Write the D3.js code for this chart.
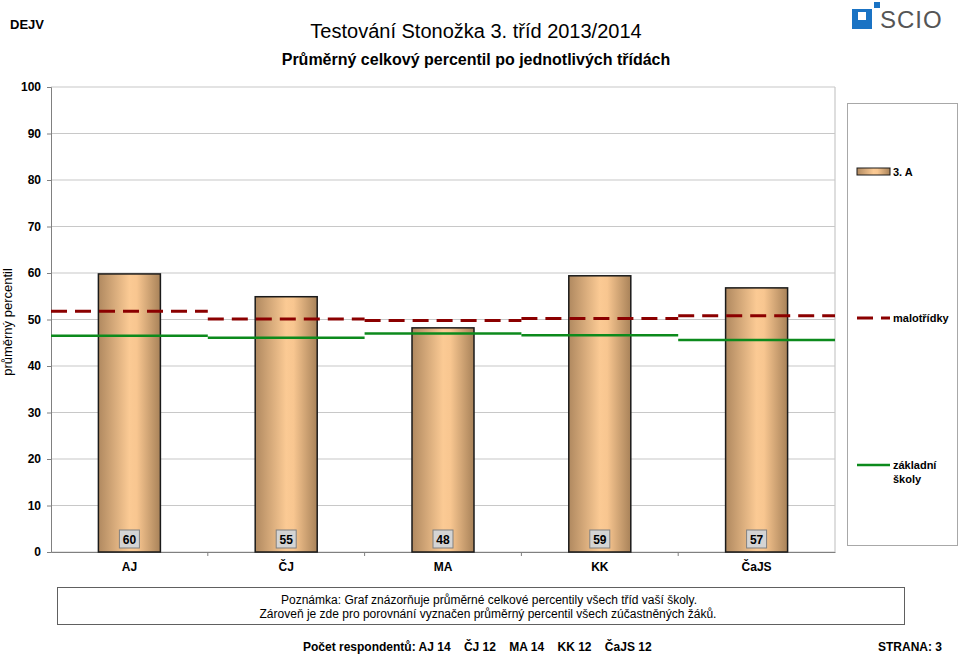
<!DOCTYPE html>
<html>
<head>
<meta charset="utf-8">
<script src="https://cdn.jsdelivr.net/npm/d3@7"></script>
<style>
  body { margin: 0; background: #fff; }
  svg { font-family: Arial, "Liberation Sans", sans-serif; }
</style>
</head>
<body>
<div id="chart"></div>
<script>
var categories = ["AJ", "ČJ", "MA", "KK", "ČaJS"];
var classValues = [59.8, 54.9, 48.2, 59.4, 56.8];
var maloValues = [51.8, 50.1, 49.8, 50.2, 50.8];
var zsValues = [46.5, 46.1, 47.0, 46.6, 45.6];
var respondents = [14, 12, 14, 12, 12];
var yTicks = [0, 10, 20, 30, 40, 50, 60, 70, 80, 90, 100];

var svgW = 960, svgH = 655;
var margin = { left: 51, right: 125, top: 87, bottom: 103 };
var chartW = svgW - margin.left - margin.right;
var chartH = svgH - margin.top - margin.bottom;

var svg = d3.select("#chart").append("svg")
    .attr("width", svgW)
    .attr("height", svgH);

var defs = svg.append("defs");
var grad = defs.append("linearGradient").attr("id", "barGrad")
    .attr("x1", "0%").attr("x2", "100%").attr("y1", "0%").attr("y2", "0%");
grad.append("stop").attr("offset", "0%").attr("stop-color", "#b08960");
grad.append("stop").attr("offset", "50%").attr("stop-color", "#fbca94");
grad.append("stop").attr("offset", "62%").attr("stop-color", "#f8c690");
grad.append("stop").attr("offset", "100%").attr("stop-color", "#a88259");

// header
svg.append("text").attr("x", 10).attr("y", 29)
    .attr("font-size", 13).attr("font-weight", "bold").text("DEJV");
svg.append("text").attr("x", 476).attr("y", 38).attr("text-anchor", "middle")
    .attr("font-size", 20).text("Testování Stonožka 3. tříd 2013/2014");
svg.append("text").attr("x", 476).attr("y", 65).attr("text-anchor", "middle")
    .attr("font-size", 16).attr("font-weight", "bold")
    .text("Průměrný celkový percentil po jednotlivých třídách");

// logo
var logo = svg.append("g");
logo.append("rect").attr("x", 852).attr("y", 9).attr("width", 20).attr("height", 20).attr("fill", "#1a73c4");
logo.append("rect").attr("x", 858).attr("y", 12).attr("width", 8).attr("height", 8).attr("fill", "#ffffff");
logo.append("rect").attr("x", 874).attr("y", 2).attr("width", 6).attr("height", 6).attr("fill", "#1a73c4");
logo.append("text").attr("x", 880).attr("y", 28).attr("font-size", 24)
    .attr("fill", "#555").attr("letter-spacing", 1).text("SCIO");

var g = svg.append("g").attr("transform", `translate(${margin.left}, ${margin.top})`);

var xScale = d3.scaleBand().domain(categories).range([0, chartW]).paddingInner(0).paddingOuter(0);
var yScale = d3.scaleLinear().domain([0, 100]).range([chartH, 0]);

// grid
g.selectAll(".grid").data(yTicks).enter().append("line")
    .attr("x1", 0).attr("x2", chartW)
    .attr("y1", d => yScale(d)).attr("y2", d => yScale(d))
    .attr("stroke", "#c8c8c8").attr("stroke-width", 1.2);
g.append("line").attr("x1", chartW).attr("x2", chartW).attr("y1", 0).attr("y2", chartH)
    .attr("stroke", "#c8c8c8").attr("stroke-width", 1.2);

var leftAxis = d3.axisLeft(yScale).tickValues(yTicks).tickSize(4).tickPadding(6);
var ya = g.append("g").call(leftAxis);
ya.selectAll("text").attr("font-size", 12).attr("font-weight", "bold").attr("fill", "#000")
    .attr("font-family", "Arial, 'Liberation Sans', sans-serif");
ya.selectAll("line").attr("stroke", "#808080");
ya.select(".domain").attr("stroke", "#808080");

// x axis
var bottomAxis = d3.axisBottom(xScale).tickSize(0).tickPadding(10);
var xa = g.append("g").attr("transform", `translate(0, ${chartH})`).call(bottomAxis);
xa.select(".domain").attr("stroke", "#808080");
xa.selectAll("text").attr("font-size", 12).attr("font-weight", "bold").attr("fill", "#000")
    .attr("font-family", "Arial, 'Liberation Sans', sans-serif");
g.selectAll(".xt").data(d3.range(1, categories.length)).enter().append("line")
    .attr("x1", d => d * xScale.step()).attr("x2", d => d * xScale.step())
    .attr("y1", chartH).attr("y2", chartH + 4).attr("stroke", "#808080");

// bars
var barW = 62;
g.selectAll(".bar").data(classValues).enter().append("rect")
    .attr("x", (d, i) => xScale(categories[i]) + xScale.bandwidth() / 2 - barW / 2)
    .attr("y", d => yScale(d))
    .attr("width", barW)
    .attr("height", d => chartH - yScale(d))
    .attr("fill", "url(#barGrad)")
    .attr("stroke", "#1a1a1a").attr("stroke-width", 1.5);

// lines (step per category)
g.selectAll(".malo").data(maloValues).enter().append("line")
    .attr("x1", (d, i) => xScale(categories[i]))
    .attr("x2", (d, i) => xScale(categories[i]) + xScale.bandwidth())
    .attr("y1", d => yScale(d)).attr("y2", d => yScale(d))
    .attr("stroke", "#8b0000").attr("stroke-width", 3)
    .attr("stroke-dasharray", "16,8");
g.selectAll(".zs").data(zsValues).enter().append("line")
    .attr("x1", (d, i) => xScale(categories[i]))
    .attr("x2", (d, i) => xScale(categories[i]) + xScale.bandwidth())
    .attr("y1", d => yScale(d)).attr("y2", d => yScale(d))
    .attr("stroke", "#0c8a1c").attr("stroke-width", 2.5);

// value labels
var lbl = g.selectAll(".lbl").data(classValues).enter().append("g")
    .attr("transform", (d, i) => `translate(${xScale(categories[i]) + xScale.bandwidth() / 2}, ${chartH - 13})`);
lbl.append("rect").attr("x", -10).attr("y", -9).attr("width", 20).attr("height", 18)
    .attr("fill", "#d4d4d4").attr("stroke", "#808080").attr("stroke-width", 1);
lbl.append("text").attr("text-anchor", "middle").attr("y", 4.5)
    .attr("font-size", 12).attr("font-weight", "bold")
    .text(d => d3.format(".0f")(d));

// y title
svg.append("text").attr("transform", "translate(12, 322) rotate(-90)")
    .attr("text-anchor", "middle").attr("font-size", 13).text("průměrný percentil");

// legend
var lg = svg.append("g");
lg.append("rect").attr("x", 847.5).attr("y", 103.5).attr("width", 110).attr("height", 442)
    .attr("fill", "none").attr("stroke", "#a8a8a8");
lg.append("rect").attr("x", 857).attr("y", 168).attr("width", 33).attr("height", 7)
    .attr("fill", "url(#barGrad)").attr("stroke", "#1a1a1a");
lg.append("text").attr("x", 893).attr("y", 176).attr("font-size", 11).attr("font-weight", "bold").text("3. A");
lg.append("line").attr("x1", 857).attr("x2", 890).attr("y1", 318).attr("y2", 318)
    .attr("stroke", "#8b0000").attr("stroke-width", 3).attr("stroke-dasharray", "16,8");
lg.append("text").attr("x", 893).attr("y", 322).attr("font-size", 11).attr("font-weight", "bold").text("malotřídky");
lg.append("line").attr("x1", 857).attr("x2", 890).attr("y1", 465).attr("y2", 465)
    .attr("stroke", "#0c8a1c").attr("stroke-width", 2.5);
lg.append("text").attr("x", 893).attr("y", 469).attr("font-size", 11).attr("font-weight", "bold").text("základní");
lg.append("text").attr("x", 893).attr("y", 483).attr("font-size", 11).attr("font-weight", "bold").text("školy");

// note box
svg.append("rect").attr("x", 57.5).attr("y", 587.5).attr("width", 847).attr("height", 37)
    .attr("fill", "none").attr("stroke", "#606060");
svg.append("text").attr("x", 489).attr("y", 604).attr("text-anchor", "middle").attr("font-size", 12)
    .text("Poznámka: Graf znázorňuje průměrné celkové percentily všech tříd vaší školy.");
svg.append("text").attr("x", 488).attr("y", 618).attr("text-anchor", "middle").attr("font-size", 12)
    .text("Zároveň je zde pro porovnání vyznačen průměrný percentil všech zúčastněných žáků.");

// footer
var resp = categories.map((c, i) => c + " " + respondents[i]).join("\u00a0\u00a0\u00a0\u00a0");
svg.append("text").attr("x", 303).attr("y", 651).attr("font-size", 12).attr("font-weight", "bold")
    .text("Počet respondentů: " + resp);
svg.append("text").attr("x", 942).attr("y", 651).attr("text-anchor", "end").attr("font-size", 12)
    .attr("font-weight", "bold").text("STRANA: 3");
</script>
</body>
</html>
